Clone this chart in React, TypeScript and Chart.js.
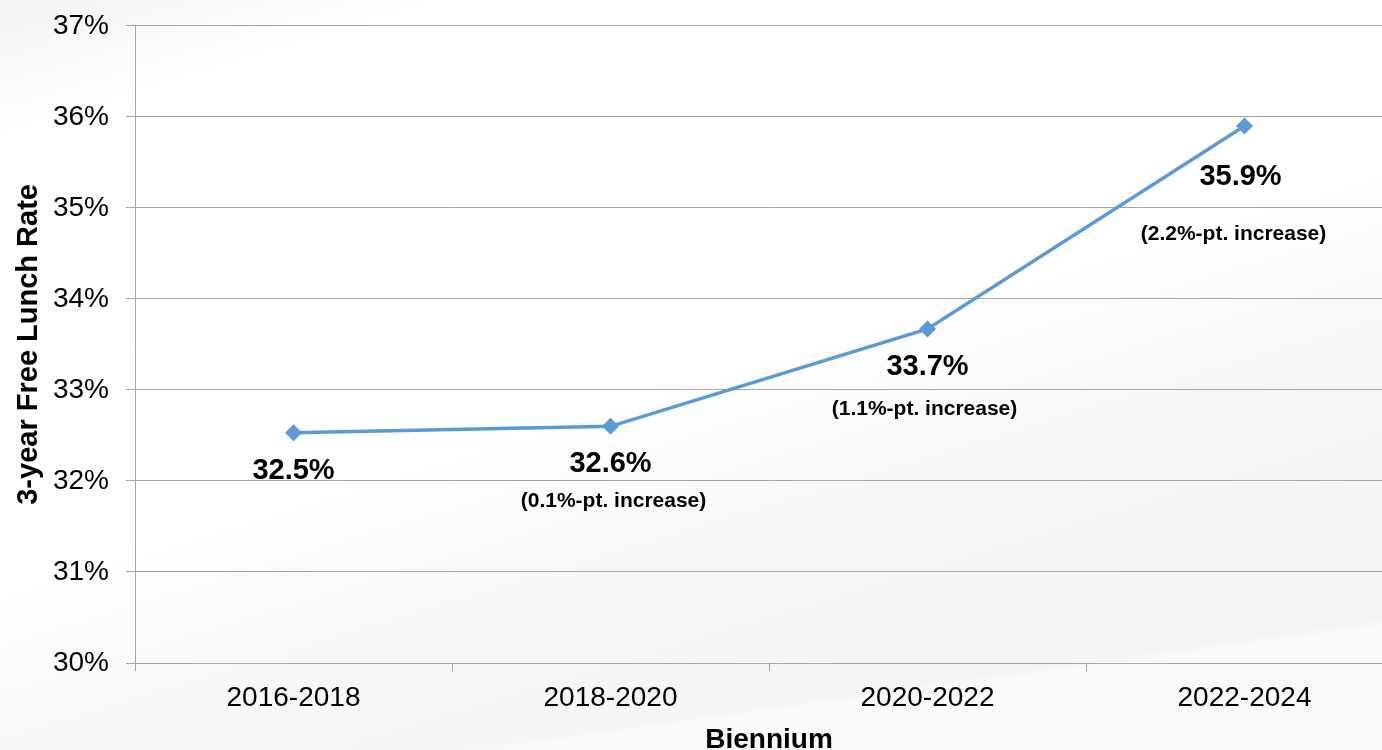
import React, { useEffect, useRef } from "react";
import { Chart, registerables } from "chart.js";

Chart.register(...registerables);

const categories = ["2016-2018", "2018-2020", "2020-2022", "2022-2024"];
const rates = [32.53, 32.6, 33.67, 35.9];
const valueLabels = ["32.5%", "32.6%", "33.7%", "35.9%"];
const changeLabels = ["", "(0.1%-pt. increase)", "(1.1%-pt. increase)", "(2.2%-pt. increase)"];
const yMin = 30;
const yMax = 37;

// label placement relative to each point (pixels)
const mainDx = [0, 0, 0, -4];
const mainDy = [38, 38, 38, 51];
const subDx = [0, 3, -3, -11];
const subDy = [0, 75, 80, 108];

const FONT = "'Liberation Sans', Arial, Helvetica, sans-serif";
const GRID = "#a6a6a6";

const labelPlugin = {
  id: "pointLabels",
  afterDatasetsDraw(chart: any) {
    const meta = chart.getDatasetMeta(0);
    const ctx = chart.ctx;
    ctx.save();
    ctx.fillStyle = "#000";
    ctx.textAlign = "center";
    ctx.textBaseline = "middle";
    meta.data.forEach((pt: any, i: number) => {
      ctx.font = `bold 29px ${FONT}`;
      ctx.fillText(valueLabels[i], pt.x + mainDx[i], pt.y + mainDy[i]);
      if (changeLabels[i]) {
        ctx.font = `bold 21px ${FONT}`;
        ctx.fillText(changeLabels[i], pt.x + subDx[i], pt.y + subDy[i]);
      }
    });
    ctx.restore();
  },
};

export default function App() {
  const ref = useRef<HTMLCanvasElement | null>(null);

  useEffect(() => {
    if (!ref.current) return;
    const chart = new Chart(ref.current, {
      type: "line",
      data: {
        labels: categories,
        datasets: [
          {
            data: rates,
            borderColor: "#5B9BD5",
            backgroundColor: "#5B9BD5",
            borderWidth: 3.5,
            pointStyle: "rectRot",
            pointRadius: 8.5,
            pointHoverRadius: 8.5,
            pointBorderWidth: 0,
            tension: 0,
          },
        ],
      },
      options: {
        responsive: false,
        animation: false,
        layout: { padding: { top: 17, right: 17, left: 0, bottom: 0 } },
        plugins: { legend: { display: false }, tooltip: { enabled: false } },
        scales: {
          x: {
            offset: true,
            grid: { offset: true, drawOnChartArea: false, drawTicks: true, tickLength: 8, color: GRID },
            border: { display: true, color: GRID },
            ticks: { color: "#000", font: { family: FONT, size: 28 }, padding: 10, maxRotation: 0 },
            title: {
              display: true,
              text: "Biennium",
              color: "#000",
              font: { family: FONT, size: 28, weight: "bold" },
              padding: { top: 0, bottom: 3 },
            },
            afterFit(scale: any) {
              scale.height = 97;
            },
          },
          y: {
            min: yMin,
            max: yMax,
            grid: { color: GRID, tickLength: 9 },
            border: { display: true, color: GRID },
            ticks: {
              stepSize: 1,
              color: "#000",
              font: { family: FONT, size: 28 },
              padding: 17,
              callback: (v: any) => `${v}%`,
            },
            title: {
              display: true,
              text: "3-year Free Lunch Rate",
              color: "#000",
              font: { family: FONT, size: 29, weight: "bold" },
              padding: { top: 12, bottom: 0 },
            },
            afterFit(scale: any) {
              scale.width = 135;
            },
          },
        },
      },
      plugins: [labelPlugin],
    });
    return () => chart.destroy();
  }, []);

  return (
    <div
      style={{
        position: "fixed",
        left: 0,
        top: 0,
        width: 1382,
        height: 750,
        overflow: "hidden",
        background:
          "linear-gradient(163deg, #f3f3f3 0%, #ffffff 12%, #ffffff 50%, #f7f7f7 65%, #f2f2f2 100%)",
      }}
    >
      <div
        style={{
          position: "absolute",
          left: 0,
          top: 0,
          width: 1382,
          height: 750,
          background: "linear-gradient(172deg, rgba(255,255,255,0) 86%, rgba(250,250,250,0.9) 87%)",
        }}
      />
      <canvas ref={ref} width={1420} height={768} style={{ position: "absolute", left: 0, top: -8 }} />
    </div>
  );
}
